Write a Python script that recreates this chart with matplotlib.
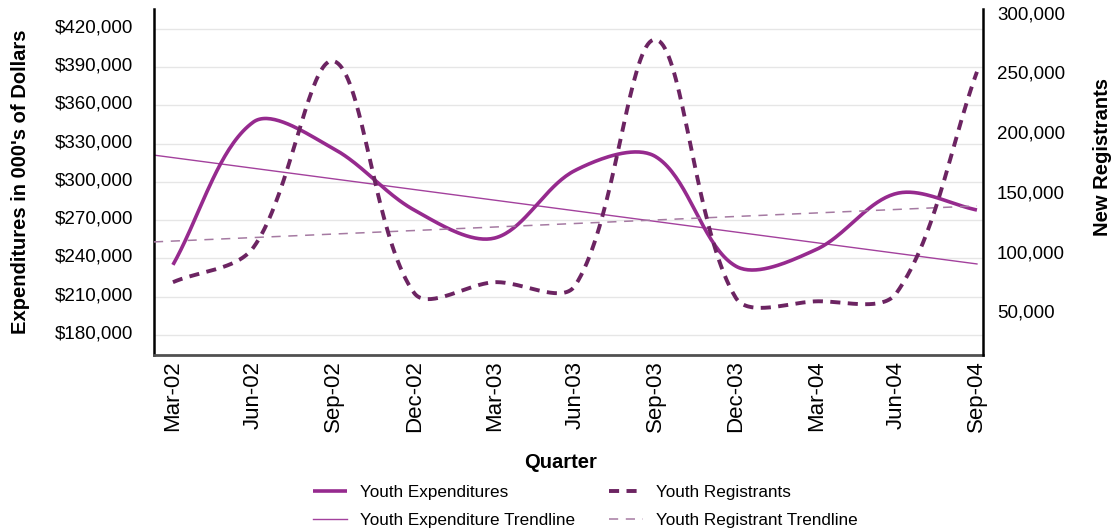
import numpy as np
import matplotlib
matplotlib.use('Agg')
import matplotlib.pyplot as plt
from matplotlib.ticker import FuncFormatter
from matplotlib.transforms import ScaledTranslation

plt.rcParams['font.family'] = ['Liberation Sans', 'DejaVu Sans']

quarters = ['Mar-02', 'Jun-02', 'Sep-02', 'Dec-02', 'Mar-03', 'Jun-03',
            'Sep-03', 'Dec-03', 'Mar-04', 'Jun-04', 'Sep-04']
expenditures = [235000, 347000, 326000, 278000, 256000, 309000,
                320000, 234000, 247000, 291000, 278000]
registrants = [77000, 106000, 262000, 68000, 77000, 74000,
               280000, 64000, 61000, 68000, 253000]
# trendline values at first and last quarter
exp_trend = [319100, 235700]
reg_trend = [111400, 140800]

c_exp = '#962A8E'
c_reg = '#6C2462'
c_exp_tr = '#A3419D'
c_reg_tr = '#A57AA2'


def smooth(axis, xs, ys, n=40):
    # bezier smoothing in pixel space, like a spreadsheet "smoothed line"
    P = axis.transData.transform(np.column_stack([xs, ys]))
    segs = []
    for i in range(len(P) - 1):
        a, b = P[i], P[i + 1]
        pa = P[i - 1] if i > 0 else a
        nb = P[i + 2] if i + 2 < len(P) else b
        d = np.hypot(*(b - a))
        dpa = np.hypot(*(a - pa))
        dnb = np.hypot(*(nb - b))
        c1 = a + (b - pa) * d / (dpa + d) / 3
        c2 = b - (nb - a) * d / (d + dnb) / 3
        t = np.linspace(0, 1, n)[:, None]
        seg = (1 - t)**3 * a + 3 * (1 - t)**2 * t * c1 + 3 * (1 - t) * t**2 * c2 + t**3 * b
        segs.append(seg if i == 0 else seg[1:])
    pts = axis.transData.inverted().transform(np.vstack(segs))
    return pts[:, 0], pts[:, 1]


fig = plt.figure(figsize=(11.15, 5.31), dpi=100)
ax = fig.add_axes([0.1381, 0.3315, 0.7435, 0.6516])
ax2 = ax.twinx()

x = np.arange(len(quarters))
x0 = -0.236
ax.set_xlim(x0, 10.075)
ax.set_ylim(164300, 435700)
ax2.set_ylim(16100, 305600)

ax.set_yticks(np.arange(180000, 420001, 30000))
ax2.set_yticks(np.arange(50000, 300001, 50000))
ax.yaxis.set_major_formatter(FuncFormatter(lambda v, p: f'${v:,.0f}'))
ax2.yaxis.set_major_formatter(FuncFormatter(lambda v, p: f'{v:,.0f}'))
ax.set_xticks(x)
ax.set_xticklabels(quarters, rotation=90)
ax.grid(axis='y', color='#E6E6E6', lw=1)
ax.set_axisbelow(True)

ax.tick_params(axis='y', length=0, labelsize=13.5, pad=15)
ax.tick_params(axis='x', length=0, labelsize=16, pad=4)
ax2.tick_params(axis='y', length=0, labelsize=13.5, pad=10)

# value labels sit a little above their gridlines
up = ScaledTranslation(0, 3 / 100, fig.dpi_scale_trans)
for lbl in ax.get_yticklabels() + ax2.get_yticklabels():
    lbl.set_transform(lbl.get_transform() + up)

for s in ['top', 'right']:
    ax.spines[s].set_visible(False)
for s in ['top', 'left', 'bottom']:
    ax2.spines[s].set_visible(False)
ax.spines['left'].set_linewidth(1.8)
ax.spines['left'].set_color('black')
ax.spines['bottom'].set_linewidth(2)
ax.spines['bottom'].set_color('#505050')
ax2.spines['right'].set_linewidth(1.8)
ax2.spines['right'].set_color('black')

# trendlines, from the left edge of the plot to the last quarter
tx = np.array([x0, x[-1]])
slope = (exp_trend[1] - exp_trend[0]) / (x[-1] - x[0])
ty = exp_trend[0] + slope * (tx - x[0])
l_exp_tr, = ax.plot(tx, ty, color=c_exp_tr, lw=1.0)
slope2 = (reg_trend[1] - reg_trend[0]) / (x[-1] - x[0])
ty2 = reg_trend[0] + slope2 * (tx - x[0])
l_reg_tr, = ax2.plot(tx, ty2, color=c_reg_tr, lw=1.1, dashes=(6, 5))

sx, sy = smooth(ax, x, expenditures)
l_exp, = ax.plot(sx, sy, color=c_exp, lw=2.6, solid_capstyle='butt')
rx, ry = smooth(ax2, x, registrants)
l_reg, = ax2.plot(rx, ry, color=c_reg, lw=2.8, dashes=(2.6, 1.9))

ax.set_ylabel("Expenditures in 000's of Dollars", fontsize=14.5, fontweight='bold')
ax.yaxis.set_label_coords(-0.1496, 0.5)
ax2.set_ylabel('New Registrants', fontsize=14.5, fontweight='bold', rotation=90)
ax2.yaxis.set_label_coords(1.1327, 0.572)
ax.set_xlabel('Quarter', fontsize=14.5, fontweight='bold',
              family=['Liberation Sans Narrow', 'Liberation Sans'])
ax.xaxis.set_label_coords(0.49, -0.283)

fig.legend([l_exp, l_exp_tr, l_reg, l_reg_tr],
           ['Youth Expenditures', 'Youth Expenditure Trendline',
            'Youth Registrants', 'Youth Registrant Trendline'],
           loc='center', bbox_to_anchor=(0.5247, 0.046), ncol=2, frameon=False,
           fontsize=12.3, handlelength=2.0, columnspacing=2.0,
           handletextpad=0.75, labelspacing=0.73)

fig.savefig('out.png', dpi=100)
